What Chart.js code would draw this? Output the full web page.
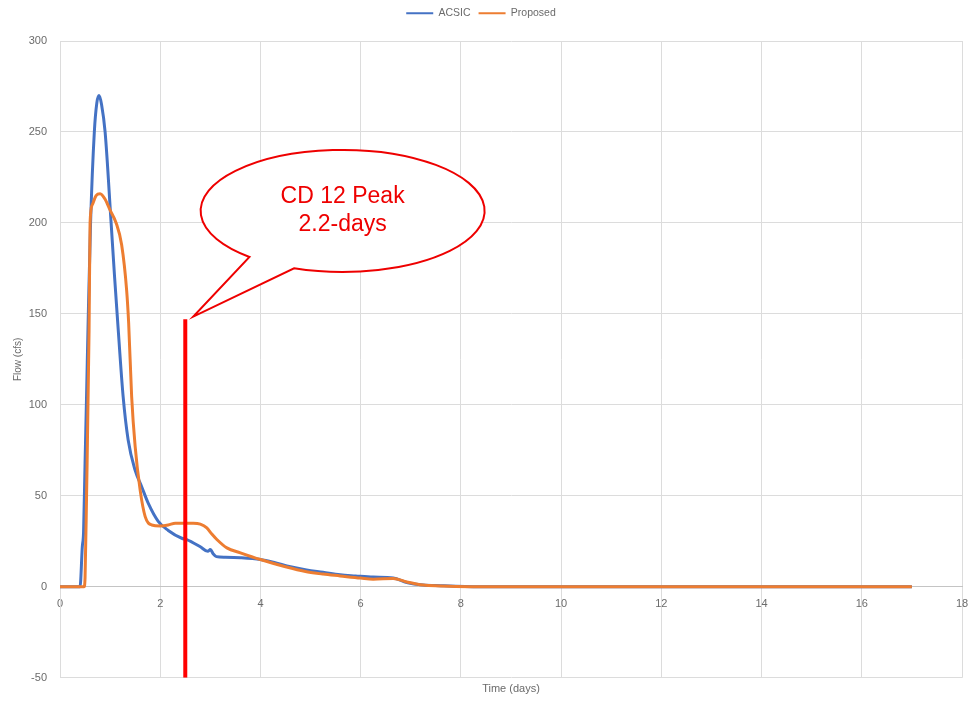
<!DOCTYPE html>
<html>
<head>
<meta charset="utf-8">
<script src="https://cdn.jsdelivr.net/npm/chart.js@4.4.1/dist/chart.umd.min.js"></script>
<style>
html, body { margin: 0; padding: 0; background: #fff; }
#wrap { width: 972px; height: 706px; }
</style>
</head>
<body>
<div id="wrap"><canvas id="flowChart" width="972" height="706"></canvas></div>
<script>
// series (time in days, flow in cfs)
const acsicTime = [0, 0.40, 0.445, 0.47, 0.50, 0.53, 0.565, 0.61, 0.685, 0.735, 0.78, 0.83, 0.90, 1.02, 1.09, 1.15, 1.26, 1.36, 1.50, 1.63, 1.76, 1.96, 2.16, 2.43, 2.53, 2.8, 2.95, 3.0, 3.06, 3.12, 3.3, 3.6, 4.0, 4.26, 4.6, 4.92, 5.25, 5.59, 5.9, 6.25, 6.65, 6.92, 7.25, 7.6, 7.9, 8.5, 9, 17];
const acsicFlow = [0, 0, 22, 30, 68, 105, 150, 200, 250, 266, 270, 265, 250, 200, 170, 146, 104.5, 80.7, 64, 55, 46, 36, 31, 26.7, 26, 22, 19.5, 20.5, 18, 16.6, 16.3, 16, 15, 13.5, 11, 9.3, 8, 6.6, 6, 5.4, 4.9, 2.4, 1, 0.6, 0.3, 0, 0, 0];

const proposedTime = [0, 0.48, 0.50, 0.53, 0.58, 0.60, 0.645, 0.72, 0.80, 0.90, 1.0, 1.12, 1.23, 1.33, 1.37, 1.43, 1.50, 1.60, 1.70, 1.83, 2.0, 2.16, 2.3, 2.5, 2.66, 2.8, 2.93, 3.03, 3.13, 3.33, 3.6, 4.0, 4.5, 4.92, 5.25, 5.59, 6.0, 6.25, 6.65, 6.92, 7.25, 7.6, 7.9, 8.5, 17];
const proposedFlow = [0, 0, 5, 50, 141, 200, 210, 215, 216, 213, 207, 200, 188, 163, 145, 104.5, 77, 53, 38.6, 34, 33.5, 34, 35, 35, 35, 34.5, 32.4, 29, 26, 21.4, 18.7, 15, 11, 8.3, 7, 6, 4.8, 4.2, 4.6, 2.7, 1, 0.5, 0.2, 0, 0];

// red marker line
const markerTime = [2.5, 2.5];
const markerFlow = [147, -50];

const xTicks = [0, 18, 2];      // min, max, step
const yTicks = [-50, 300, 50];

const calloutLines = ['CD 12 Peak', '2.2-days'];
const calloutCenter = { x: 5.64, y: 206.6 };
const calloutTip = { x: 2.66, y: 148.5 };

function toPoints(xs, ys) {
    return xs.map((x, i) => ({ x: x, y: ys[i] }));
}

const gray = '#6b6b6b';
const gridColor = '#dcdcdc';
const tickFont = { family: '"Liberation Sans", Arial, sans-serif', size: 11 };

const legendHeight = {
    id: 'legendHeight',
    afterInit(chart) {
        const legend = chart.legend;
        if (!legend) return;
        const fit = legend.fit;
        legend.fit = function () {
            fit.call(this);
            this.height = 41;
        };
    }
};

const callout = {
    id: 'callout',
    afterDraw(chart) {
        const ctx = chart.ctx;
        const xs = chart.scales.x, ys = chart.scales.y;
        const cx = xs.getPixelForValue(calloutCenter.x);
        const cy = ys.getPixelForValue(calloutCenter.y);
        const tx = xs.getPixelForValue(calloutTip.x);
        const ty = ys.getPixelForValue(calloutTip.y);
        const rx = 142, ry = 61;
        const a1 = 131 * Math.PI / 180;
        const a2 = 110 * Math.PI / 180;
        ctx.save();
        ctx.beginPath();
        ctx.ellipse(cx, cy, rx, ry, 0, a1, a2, false);
        ctx.lineTo(tx, ty);
        ctx.closePath();
        ctx.fillStyle = '#ffffff';
        ctx.fill();
        ctx.lineWidth = 2;
        ctx.strokeStyle = '#ee0000';
        ctx.stroke();
        ctx.fillStyle = '#ee0000';
        ctx.font = '23px "Liberation Sans", Arial, sans-serif';
        ctx.textAlign = 'center';
        ctx.textBaseline = 'middle';
        ctx.fillText(calloutLines[0], cx, cy - 14);
        ctx.fillText(calloutLines[1], cx, cy + 14);
        ctx.restore();
    }
};

function noSidePadding(scale) {
    scale.paddingLeft = 0;
    scale.paddingRight = 0;
}

const ctx = document.getElementById('flowChart').getContext('2d');
const flowChart = new Chart(ctx, {
    type: 'line',
    data: {
        datasets: [
            {
                label: 'ACSIC',
                data: toPoints(acsicTime, acsicFlow),
                borderColor: '#4472C4',
                backgroundColor: '#4472C4',
                borderWidth: 3,
                pointRadius: 0,
                cubicInterpolationMode: 'monotone',
                order: 3
            },
            {
                label: 'Proposed',
                data: toPoints(proposedTime, proposedFlow),
                borderColor: '#ED7D31',
                backgroundColor: '#ED7D31',
                borderWidth: 3,
                pointRadius: 0,
                cubicInterpolationMode: 'monotone',
                order: 2
            },
            {
                label: 'marker',
                data: toPoints(markerTime, markerFlow),
                borderColor: '#ff0000',
                backgroundColor: '#ff0000',
                borderWidth: 4,
                pointRadius: 0,
                tension: 0,
                order: 1
            }
        ]
    },
    options: {
        responsive: false,
        animation: false,
        devicePixelRatio: 1,
        layout: { padding: { left: 0, right: 10, top: 0, bottom: 0 } },
        plugins: {
            tooltip: { enabled: false },
            legend: {
                position: 'top',
                labels: {
                    boxWidth: 27,
                    boxHeight: 2,
                    padding: 8,
                    color: gray,
                    font: { family: tickFont.family, size: 10.5 },
                    filter: item => item.text !== 'marker',
                    sort: (a, b) => a.datasetIndex - b.datasetIndex,
                    generateLabels: chart => Chart.defaults.plugins.legend.labels.generateLabels(chart)
                        .map(item => Object.assign(item, { lineWidth: 0 }))
                }
            }
        },
        scales: {
            x: {
                type: 'linear',
                position: { y: 0 },
                min: xTicks[0],
                max: xTicks[1],
                ticks: { stepSize: xTicks[2], color: gray, font: tickFont, padding: 11, maxRotation: 0 },
                grid: { color: gridColor, drawTicks: false },
                border: { color: '#c4c4c4' },
                afterFit: noSidePadding
            },
            x2: {
                type: 'linear',
                display: true,
                position: 'bottom',
                min: xTicks[0],
                max: xTicks[1],
                ticks: { display: false },
                grid: { display: false, drawTicks: false },
                border: { display: false },
                title: {
                    display: true,
                    text: 'Time (days)',
                    color: gray,
                    font: tickFont,
                    padding: { top: 5, bottom: 10 }
                },
                afterFit: noSidePadding
            },
            y: {
                min: yTicks[0],
                max: yTicks[1],
                ticks: { stepSize: yTicks[2], color: gray, font: tickFont, padding: 13 },
                grid: { color: gridColor, drawTicks: false },
                border: { color: gridColor },
                title: {
                    display: true,
                    text: 'Flow (cfs)',
                    color: gray,
                    font: { family: tickFont.family, size: 10 },
                    padding: { top: 12, bottom: 4 }
                },
                afterFit: scale => { scale.width = 60; }
            }
        }
    },
    plugins: [legendHeight, callout]
});
</script>
</body>
</html>
